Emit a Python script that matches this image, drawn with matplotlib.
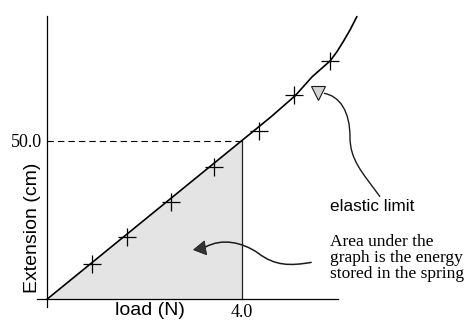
import matplotlib
matplotlib.use('Agg')
import matplotlib.pyplot as plt
from matplotlib.patches import PathPatch
from matplotlib.path import Path

# measured points (load in N, extension in cm)
load_pts = [0.91, 1.65, 2.55, 3.44, 4.36, 5.08, 5.82]
ext_pts = [11.1, 19.7, 30.7, 41.8, 53.1, 64.4, 75.2]

# traced line through the points, bending upward past the elastic limit
curve_load = [0.0, 4.0, 4.6, 5.1, 5.45, 5.82, 5.96, 6.09, 6.23, 6.37]
curve_ext = [0.0, 50.0, 57.5, 64.2, 70.2, 75.2, 78.1, 81.3, 85.0, 89.2]

limit_load = 4.0
limit_ext = 50.0

area_lines = ['Area under the', 'graph is the energy', 'stored in the spring']

SANS = 'Liberation Sans'
SERIF = 'Liberation Serif'


def spring_graph():
    fig = plt.figure(figsize=(4.74, 3.32), dpi=100)
    ax = fig.add_axes([0, 0, 1, 1])
    ax.set_xlim(-0.973, 8.78)
    ax.set_ylim(-10.42, 94.44)

    # shaded triangle = energy stored up to 4.0 N
    ax.fill_between(curve_load[:2], [0, 0], curve_ext[:2], color='#e4e4e4', lw=0)
    ax.plot([limit_load, limit_load], [0, limit_ext], color='#222222', lw=0.9)
    ax.plot([0, limit_load], [limit_ext, limit_ext], color='black', lw=0.8,
            linestyle=(0, (5.8, 3.6)))

    ax.plot(curve_load, curve_ext, color='black', lw=1.2, solid_capstyle='round')
    ax.plot(load_pts, ext_pts, '+', color='black', markersize=13, markeredgewidth=0.9)

    # axes drawn as crossing lines through the origin
    for side in ['top', 'right']:
        ax.spines[side].set_visible(False)
    ax.spines['left'].set_position(('data', 0))
    ax.spines['bottom'].set_position(('data', 0))
    ax.spines['left'].set_bounds(-2.6, 89.4)
    ax.spines['bottom'].set_bounds(-0.22, 5.98)
    ax.spines['left'].set_linewidth(0.9)
    ax.spines['bottom'].set_linewidth(0.9)

    ax.set_xticks([limit_load], labels=['4.0'])
    ax.set_yticks([limit_ext], labels=['50.0'])
    ax.tick_params(length=0, pad=3.5, labelsize=13)
    for lab in ax.get_xticklabels() + ax.get_yticklabels():
        lab.set_fontfamily(SERIF)

    ax.text(0.0686, 0.313, 'Extension (cm)', transform=ax.transAxes, rotation=90,
            ha='center', va='center', fontsize=14, family=SANS)
    ax.text(2.11, -3.5, 'load (N)', ha='center', va='center', fontsize=14, family=SANS)

    ax.text(5.817, 27.9, 'elastic limit', ha='left', va='baseline', fontsize=12.3, family=SANS)
    for line, base in zip(area_lines, [16.74, 11.68, 6.54]):
        ax.text(5.817, base, line, ha='left', va='baseline', fontsize=12.5, family=SERIF)

    curve4 = [Path.MOVETO] + [Path.CURVE4] * 6

    # wavy pointer into the shaded area
    area_path = Path([(5.440, 11.59), (4.994, 10.42), (4.685, 10.42), (4.335, 14.53),
                      (4.006, 18.00), (3.595, 19.27), (3.255, 16.42)], curve4)
    ax.add_patch(PathPatch(area_path, fill=False, lw=1.1, edgecolor='#1a1a1a'))
    ax.plot([3.171], [16.20], marker=(3, 0, 99.3), markersize=11.5,
            color='#333333', markeredgecolor='#1a1a1a', markeredgewidth=0.6)

    # pointer from the label up to the elastic limit
    limit_path = Path([(6.846, 32.31), (6.475, 40.11), (6.228, 43.90), (6.228, 51.26),
                       (6.228, 59.07), (6.023, 64.12), (5.693, 64.97)], curve4)
    ax.add_patch(PathPatch(limit_path, fill=False, lw=1.0, edgecolor='#1a1a1a'))
    ax.plot([5.576], [65.16], marker='v', markersize=9.6, color='#d2d2d2',
            markeredgecolor='#1a1a1a', markeredgewidth=0.8)

    fig.savefig('out.png', dpi=100)


if __name__ == '__main__':
    spring_graph()
